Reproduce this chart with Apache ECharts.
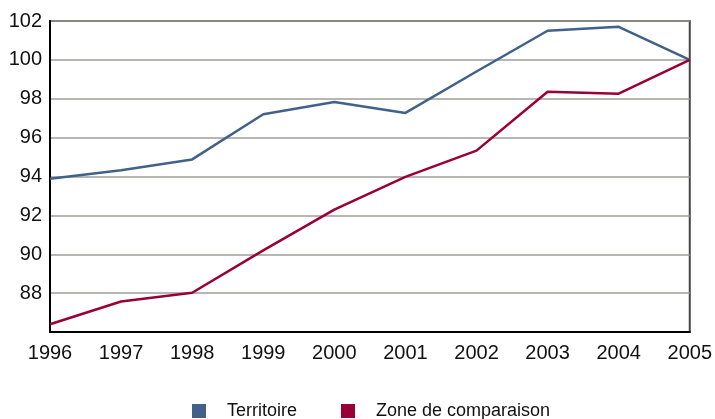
<!DOCTYPE html>
<html>
<head>
<meta charset="utf-8">
<script src="https://cdn.jsdelivr.net/npm/echarts@6/dist/echarts.min.js"></script>
<style>
  html, body { margin: 0; padding: 0; background: #fff; }
  #chart { width: 715px; height: 419px; }
</style>
</head>
<body>
<div id="chart"></div>
<script>
// années
const years = ['1996', '1997', '1998', '1999', '2000', '2001', '2002', '2003', '2004', '2005']
// indices (base 100 en 2005)
const territoire = [93.88, 94.32, 94.88, 97.2, 97.83, 97.27, 99.4, 101.5, 101.7, 100]
const zoneComparaison = [86.4, 87.57, 88.02, 90.2, 92.3, 93.98, 95.33, 98.36, 98.26, 100]

const myChart = echarts.init(document.getElementById('chart'))

const myOption = {
  backgroundColor: '#fff',
  animation: false,
  textStyle: { fontFamily: 'Liberation Sans, Arial, sans-serif' },

  grid: {
    left: 50,
    right: 25,
    top: 21,
    bottom: 87,
    show: true,
    borderColor: '#444',
    borderWidth: 2
  },

  legend: {
    bottom: -6,
    left: 187,
    itemWidth: 14,
    itemHeight: 14,
    itemGap: 44,
    icon: 'rect',
    textStyle: { color: '#111', fontSize: 18, padding: [0, 0, 0, 16] },
    data: ['Territoire', 'Zone de comparaison']
  },

  xAxis: {
    type: 'category',
    data: years,
    boundaryGap: false,
    axisLine: { lineStyle: { color: '#000', width: 2 } },
    axisTick: { show: false },
    axisLabel: { color: '#111', fontSize: 20, margin: 11 },
    splitLine: { show: false }
  },

  yAxis: {
    type: 'value',
    min: 86,
    max: 102,
    interval: 2,
    axisLine: { show: true, lineStyle: { color: '#000', width: 2 } },
    axisTick: { show: false },
    axisLabel: {
      color: '#111',
      fontSize: 20,
      margin: 8,
      formatter: (v) => (v === 86 ? '' : String(v))
    },
    splitLine: { lineStyle: { color: '#a09e96', width: 1.5 } }
  },

  series: [
    {
      name: 'Territoire',
      type: 'line',
      data: territoire,
      symbol: 'none',
      lineStyle: { color: '#40628a', width: 2.5 },
      itemStyle: { color: '#40628a' }
    },
    {
      name: 'Zone de comparaison',
      type: 'line',
      data: zoneComparaison,
      symbol: 'none',
      lineStyle: { color: '#9a0036', width: 2.5 },
      itemStyle: { color: '#9a0036' }
    }
  ]
}
myChart.setOption(myOption)
</script>
</body>
</html>
